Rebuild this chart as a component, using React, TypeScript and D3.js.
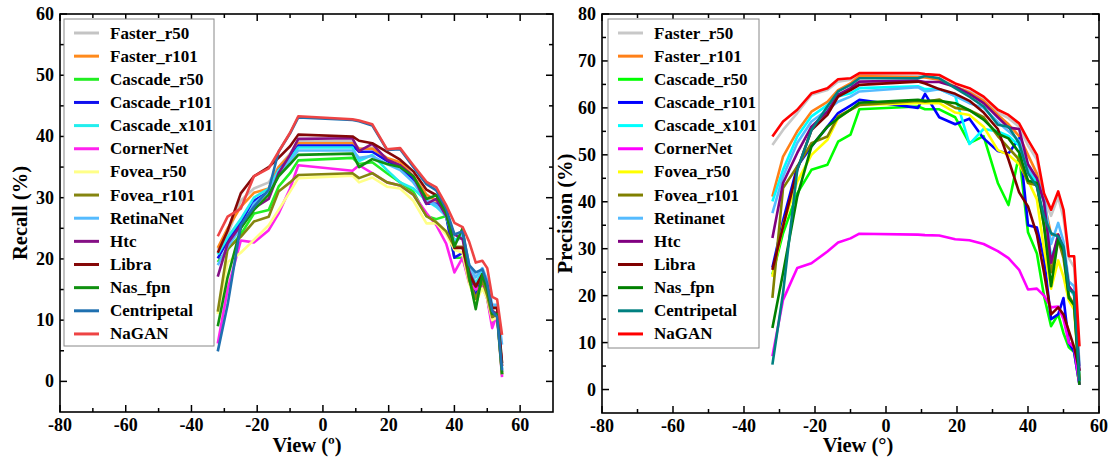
import * as d3 from 'd3';
import React from 'react';

// view angles (x positions of the measured points)
const views = [-32, -29, -25, -21, -16.5, -13.5, -10, -7.5, 9, 11, 15, 19.5, 23.5, 27.5, 31.5, 34.5, 37.5, 40, 42.5, 44.5, 46.5, 48.5, 50, 51.5, 53, 54.5];

const names = ['Faster_r50', 'Faster_r101', 'Cascade_r50', 'Cascade_r101', 'Cascade_x101', 'CornerNet', 'Fovea_r50', 'Fovea_r101', 'RetinaNet', 'Htc', 'Libra', 'Nas_fpn', 'Centripetal', 'NaGAN'];
const namesRight = ['Faster_r50', 'Faster_r101', 'Cascade_r50', 'Cascade_r101', 'Cascade_x101', 'CornerNet', 'Fovea_r50', 'Fovea_r101', 'Retinanet', 'Htc', 'Libra', 'Nas_fpn', 'Centripetal', 'NaGAN'];

const colorsLeft = ['#c4c4c4', '#ff8a1c', '#22ee22', '#1010ee', '#22eeee', '#ff22ee', '#ffff88', '#858510', '#55bbff', '#851085', '#850808', '#109010', '#1f70b0', '#ee4444'];
const colorsRight = ['#c8c8c8', '#ff8018', '#00ff00', '#0000ff', '#00ffff', '#ff00ff', '#ffff00', '#808000', '#55bbff', '#800080', '#800000', '#008000', '#008080', '#ff0000'];

// Recall (%)
const recallFasterR50 = [21.5, 24.0, 29.5, 31.5, 32.5, 35.0, 37.2, 39.2, 39.2, 38.0, 38.2, 36.0, 35.3, 33.0, 30.0, 29.0, 27.0, 24.0, 24.5, 19.0, 16.0, 18.0, 16.0, 12.0, 12.0, 3.0];
const recallFasterR101 = [21.8, 25.0, 28.5, 30.8, 31.5, 35.0, 37.0, 38.9, 38.9, 38.0, 38.0, 36.5, 35.8, 33.5, 30.5, 29.5, 27.5, 23.0, 23.5, 18.0, 15.0, 17.0, 15.0, 11.5, 11.0, 2.5];
const recallCascadeR50 = [19.5, 21.5, 24.0, 27.4, 28.0, 31.8, 34.0, 36.1, 36.5, 35.5, 35.8, 34.0, 32.5, 31.0, 27.0, 26.5, 27.0, 20.2, 20.2, 16.5, 12.5, 16.5, 13.5, 9.5, 10.5, 1.0];
const recallCascadeR101 = [20.1, 23.0, 26.0, 29.5, 31.0, 34.5, 36.5, 38.5, 38.5, 37.5, 37.5, 36.0, 35.0, 33.0, 29.0, 29.0, 27.0, 20.2, 21.0, 17.0, 14.0, 17.0, 14.0, 10.5, 11.0, 1.5];
const recallCascadeX101 = [20.7, 23.5, 26.5, 30.0, 31.5, 34.5, 36.3, 38.2, 38.2, 36.0, 37.0, 34.5, 32.5, 31.5, 29.5, 28.5, 27.0, 23.0, 24.0, 18.0, 16.0, 18.0, 16.0, 12.0, 12.0, 2.0];
const recallCornerNet = [6.2, 15.0, 23.0, 22.7, 24.7, 27.4, 31.5, 35.3, 34.4, 35.3, 34.0, 32.5, 32.0, 30.5, 27.5, 25.5, 22.5, 17.8, 20.2, 16.0, 15.0, 15.5, 13.5, 8.7, 11.0, 0.7];
const recallFoveaR50 = [11.0, 19.5, 21.0, 23.1, 25.5, 28.0, 31.0, 33.2, 33.6, 32.5, 33.3, 31.8, 31.5, 29.5, 25.8, 25.8, 24.0, 21.5, 21.0, 16.0, 13.0, 15.2, 13.5, 10.0, 10.5, 1.2];
const recallFoveaR101 = [11.4, 21.7, 23.6, 26.1, 26.9, 31.0, 32.5, 33.7, 34.0, 33.2, 34.0, 32.5, 32.0, 30.5, 27.0, 26.0, 24.5, 22.0, 22.0, 16.5, 13.5, 16.5, 14.0, 10.5, 11.0, 1.2];
const recallRetinaNet = [19.0, 22.0, 25.0, 29.0, 31.0, 34.0, 36.0, 37.7, 37.7, 36.5, 36.8, 35.5, 34.5, 32.5, 29.5, 28.8, 27.0, 22.5, 24.0, 19.0, 17.0, 18.5, 16.5, 12.5, 12.5, 6.0];
const recallHtc = [17.1, 22.5, 25.5, 28.3, 29.8, 34.0, 37.0, 39.6, 39.7, 37.6, 38.8, 36.2, 35.3, 33.5, 29.0, 29.8, 27.0, 24.0, 23.2, 18.0, 15.5, 17.0, 15.5, 11.5, 11.0, 2.5];
const recallLibra = [21.0, 24.6, 30.7, 33.5, 35.0, 36.5, 38.4, 40.3, 40.0, 39.3, 38.9, 37.5, 36.2, 34.3, 31.3, 30.4, 27.7, 21.8, 21.8, 17.5, 15.5, 17.5, 15.5, 12.0, 12.0, 3.0];
const recallNasFpn = [9.0, 17.0, 25.0, 28.0, 30.5, 33.5, 35.5, 37.0, 37.2, 35.0, 36.3, 35.5, 35.0, 33.5, 29.8, 30.4, 27.5, 22.0, 25.0, 17.0, 11.8, 17.5, 15.0, 11.0, 11.0, 1.2];
const recallCentripetal = [4.9, 12.5, 25.5, 28.5, 31.3, 37.5, 40.5, 43.1, 42.7, 42.5, 41.8, 37.8, 37.9, 35.0, 32.2, 31.2, 28.2, 24.0, 24.5, 19.0, 17.8, 18.3, 16.0, 11.5, 10.5, 1.8];
const recallNaGAN = [23.7, 26.9, 28.2, 33.5, 34.8, 37.5, 40.6, 43.3, 42.8, 42.6, 42.0, 37.9, 38.1, 35.3, 32.6, 31.7, 28.8, 25.9, 25.2, 22.8, 19.4, 19.7, 18.5, 13.8, 13.4, 7.6];

// Precision (%)
const precFasterR50 = [52.1, 55.3, 58.9, 62.8, 63.8, 65.6, 66.0, 67.0, 66.8, 66.6, 66.3, 64.5, 63.5, 62.0, 59.0, 57.8, 56.0, 52.0, 49.0, 41.0, 37.0, 41.0, 36.5, 28.0, 26.0, 5.0];
const precFasterR101 = [41.1, 49.6, 55.0, 59.2, 61.3, 63.8, 65.2, 66.8, 66.5, 66.5, 66.0, 64.5, 63.3, 61.5, 58.5, 56.5, 54.0, 50.0, 46.0, 40.0, 33.0, 33.0, 30.0, 22.0, 20.0, 2.0];
const precCascadeR50 = [24.5, 33.3, 41.8, 46.8, 47.9, 52.8, 54.3, 59.7, 60.3, 59.7, 59.7, 58.0, 52.5, 54.0, 44.0, 39.3, 50.0, 33.5, 29.0, 20.0, 13.5, 16.0, 12.0, 9.0, 8.0, 1.0];
const precCascadeR101 = [26.0, 36.0, 47.5, 51.8, 56.0, 58.9, 60.5, 61.7, 60.0, 63.0, 58.0, 56.5, 57.7, 53.5, 50.8, 50.3, 53.5, 35.0, 34.5, 28.0, 15.0, 16.0, 19.5, 10.0, 8.0, 1.0];
const precCascadeX101 = [40.1, 46.8, 53.9, 58.2, 60.6, 62.4, 63.1, 64.2, 64.6, 64.0, 64.0, 62.5, 52.3, 55.5, 55.0, 54.0, 52.0, 47.0, 44.0, 40.0, 28.0, 32.0, 30.0, 22.0, 20.0, 3.0];
const precCornerNet = [7.1, 19.1, 25.9, 26.9, 29.4, 31.3, 32.2, 33.2, 33.0, 32.9, 32.8, 32.0, 31.8, 31.0, 29.5, 28.0, 25.5, 21.3, 21.5, 20.0, 17.5, 17.7, 15.0, 10.0, 9.0, 1.0];
const precFoveaR50 = [24.0, 35.0, 44.3, 50.0, 53.2, 57.8, 59.6, 60.6, 61.0, 61.0, 61.0, 59.0, 58.5, 56.0, 51.0, 50.0, 48.0, 44.5, 40.5, 30.0, 21.5, 27.5, 24.0, 19.0, 17.0, 2.0];
const precFoveaR101 = [19.5, 42.9, 47.5, 52.5, 53.9, 58.2, 59.6, 60.6, 61.5, 61.3, 61.8, 60.0, 59.5, 58.0, 54.0, 51.5, 49.0, 44.0, 43.5, 35.0, 25.0, 32.0, 28.0, 20.0, 18.0, 2.0];
const precRetinanet = [37.6, 45.4, 52.5, 57.1, 59.6, 61.3, 62.4, 63.5, 64.4, 63.5, 64.0, 62.5, 61.0, 60.0, 57.0, 55.0, 53.0, 47.0, 45.0, 41.0, 31.0, 35.5, 31.5, 23.0, 22.0, 5.0];
const precHtc = [32.3, 44.0, 50.4, 56.0, 59.2, 62.8, 64.2, 65.6, 65.8, 65.5, 65.5, 64.5, 63.0, 61.0, 58.0, 55.8, 55.5, 48.0, 45.0, 40.0, 27.0, 33.0, 30.0, 22.0, 20.5, 4.0];
const precLibra = [25.5, 34.7, 46.8, 55.3, 58.5, 62.4, 63.8, 64.9, 65.6, 65.2, 64.0, 63.0, 61.5, 59.0, 55.5, 49.0, 42.0, 39.0, 33.0, 25.0, 16.0, 17.5, 16.0, 12.5, 9.0, 4.0];
const precNasFpn = [13.1, 24.8, 41.1, 51.8, 56.0, 57.8, 59.6, 61.1, 61.7, 61.5, 61.5, 61.0, 59.5, 57.5, 54.5, 53.5, 50.5, 44.5, 44.0, 35.0, 22.0, 32.0, 29.5, 19.5, 18.0, 1.0];
const precCentripetal = [5.3, 20.6, 46.8, 55.3, 60.3, 63.5, 64.9, 66.3, 66.3, 66.8, 66.3, 64.2, 62.4, 60.3, 56.4, 56.0, 52.5, 46.1, 43.2, 36.9, 33.3, 32.6, 30.5, 21.3, 20.6, 1.8];
const precNaGAN = [53.9, 57.1, 59.6, 63.1, 64.2, 66.1, 66.3, 67.4, 67.4, 67.2, 67.0, 65.2, 64.2, 62.4, 59.6, 58.5, 56.7, 53.2, 50.0, 41.8, 38.3, 42.2, 38.3, 28.4, 28.4, 9.2];

const recallSeries = [recallFasterR50, recallFasterR101, recallCascadeR50, recallCascadeR101, recallCascadeX101, recallCornerNet, recallFoveaR50, recallFoveaR101, recallRetinaNet, recallHtc, recallLibra, recallNasFpn, recallCentripetal, recallNaGAN];
const precSeries = [precFasterR50, precFasterR101, precCascadeR50, precCascadeR101, precCascadeX101, precCornerNet, precFoveaR50, precFoveaR101, precRetinanet, precHtc, precLibra, precNasFpn, precCentripetal, precNaGAN];

const FONT = "'Liberation Serif', serif";

type PanelProps = {
  left: number; right: number; top: number; bottom: number;
  xDomain: [number, number]; yDomain: [number, number];
  yMax: number; yLabel: string; xLabel: string; xLabelX: number; yLabelX: number;
  series: number[][]; labels: string[]; colors: string[];
  legendBox: [number, number, number, number];
};

function Panel(p: PanelProps) {
  const x = d3.scaleLinear().domain(p.xDomain).range([p.left, p.right]);
  const y = d3.scaleLinear().domain(p.yDomain).range([p.bottom, p.top]);
  const line = d3.line<number>().x((d, i) => x(views[i])).y(d => y(d));

  const xMajor = d3.range(-80, 61, 20);
  const xMinor = d3.range(-70, p.xDomain[1], 20);
  const yMajor = d3.range(0, p.yMax + 1, 10);
  const yMinor = d3.range(5, p.yMax, 10);
  const M = 7, m = 4;

  const [lx, ly, lw, lh] = p.legendBox;
  const rowH = 23.15;

  return (
    <g>
      {/* ticks on all four sides, pointing inward */}
      <g stroke="#000" strokeWidth={1.5}>
        {xMajor.map(v => (
          <g key={'xM' + v}>
            <line x1={x(v)} x2={x(v)} y1={p.bottom} y2={p.bottom - M} />
            <line x1={x(v)} x2={x(v)} y1={p.top} y2={p.top + M} />
          </g>
        ))}
        {xMinor.map(v => (
          <g key={'xm' + v}>
            <line x1={x(v)} x2={x(v)} y1={p.bottom} y2={p.bottom - m} />
            <line x1={x(v)} x2={x(v)} y1={p.top} y2={p.top + m} />
          </g>
        ))}
        {yMajor.map(v => (
          <g key={'yM' + v}>
            <line x1={p.left} x2={p.left + M} y1={y(v)} y2={y(v)} />
            <line x1={p.right} x2={p.right - M} y1={y(v)} y2={y(v)} />
          </g>
        ))}
        {yMinor.map(v => (
          <g key={'ym' + v}>
            <line x1={p.left} x2={p.left + m} y1={y(v)} y2={y(v)} />
            <line x1={p.right} x2={p.right - m} y1={y(v)} y2={y(v)} />
          </g>
        ))}
      </g>

      {/* data lines */}
      <g fill="none" strokeWidth={2.6} strokeLinejoin="round">
        {p.series.map((s, i) => (
          <path key={i} d={line(s) || ''} stroke={p.colors[i]} />
        ))}
      </g>

      <rect x={p.left} y={p.top} width={p.right - p.left} height={p.bottom - p.top} fill="none" stroke="#000" strokeWidth={1.6} />

      {/* tick labels */}
      <g style={{ fontFamily: FONT }} fontWeight="bold" fontSize={18} fill="#000">
        {xMajor.map(v => (
          <text key={'xl' + v} x={x(v)} y={p.bottom + 19} textAnchor="middle">{v}</text>
        ))}
        {yMajor.map(v => (
          <text key={'yl' + v} x={p.left - 6} y={y(v) + 6} textAnchor="end">{v}</text>
        ))}
      </g>

      {/* axis titles */}
      <text x={p.xLabelX} y={452} textAnchor="middle" style={{ fontFamily: FONT }} fontWeight="bold" fontSize={20.5}>{p.xLabel}</text>
      <text transform={`translate(${p.yLabelX},${(p.top + p.bottom) / 2}) rotate(-90)`} textAnchor="middle" style={{ fontFamily: FONT }} fontWeight="bold" fontSize={20.5}>{p.yLabel}</text>

      {/* legend */}
      <rect x={lx} y={ly} width={lw} height={lh} fill="#fff" stroke="#888" strokeWidth={1} />
      {p.labels.map((name, i) => {
        const cy = ly + 14 + i * rowH;
        return (
          <g key={name}>
            <line x1={lx + 10} x2={lx + 35} y1={cy} y2={cy} stroke={p.colors[i]} strokeWidth={3} />
            <text x={lx + 46} y={cy + 5.5} style={{ fontFamily: FONT }} fontWeight="bold" fontSize={17}>{name}</text>
          </g>
        );
      })}
    </g>
  );
}

export default function App() {
  return (
    <svg width={1111} height={457} style={{ position: 'absolute', left: 0, top: 0, background: '#fff' }}>
      <Panel
        left={60} right={553} top={14} bottom={412}
        xDomain={[-80, 70]} yDomain={[-5, 60]} yMax={60}
        yLabel="Recall (%)" xLabel="View (º)" xLabelX={307} yLabelX={27}
        series={recallSeries} labels={names} colors={colorsLeft}
        legendBox={[64, 19, 150, 327]}
      />
      <Panel
        left={602} right={1099} top={14} bottom={413}
        xDomain={[-80, 60]} yDomain={[-5, 80]} yMax={80}
        yLabel="Precision (%)" xLabel="View (°)" xLabelX={858} yLabelX={572}
        series={precSeries} labels={namesRight} colors={colorsRight}
        legendBox={[608, 19, 151, 329]}
      />
    </svg>
  );
}
